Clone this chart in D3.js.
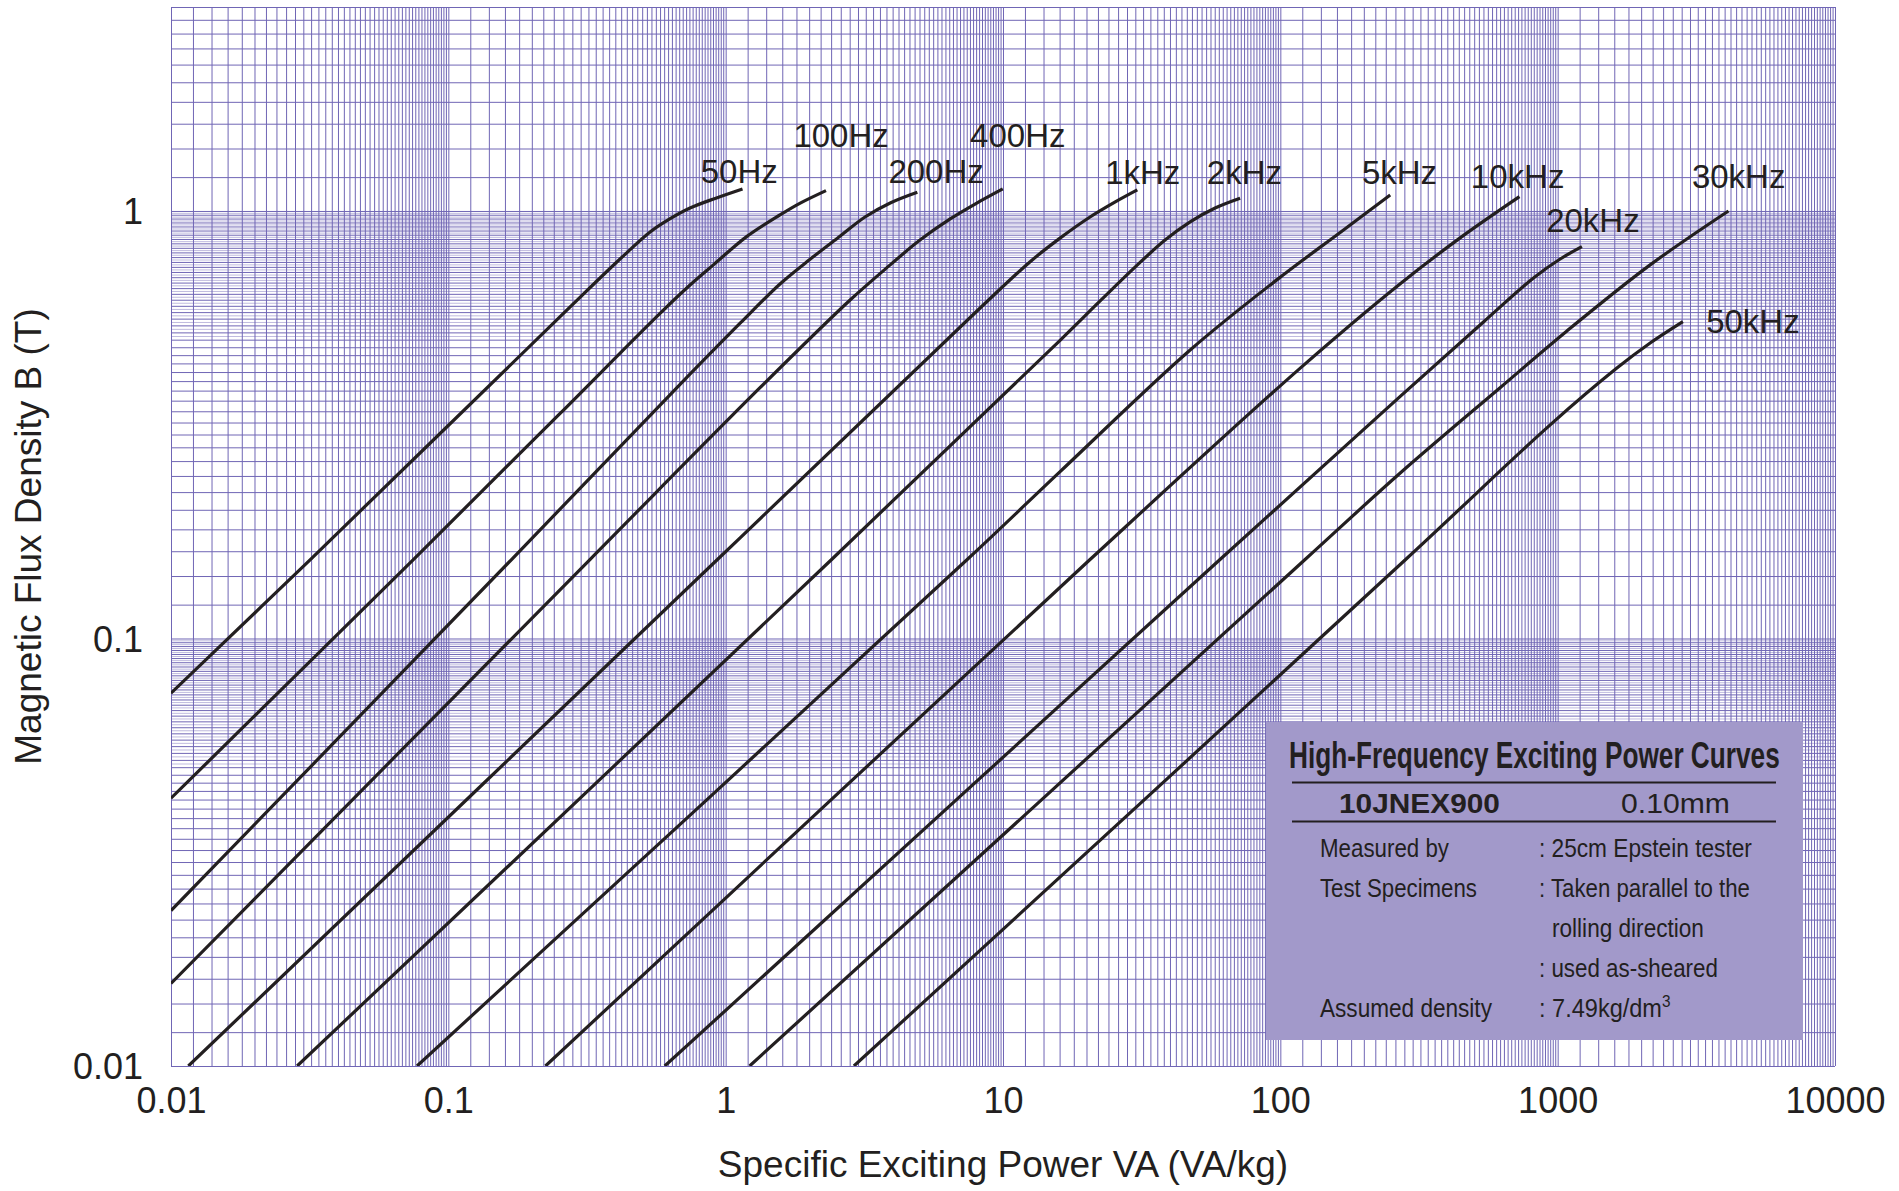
<!DOCTYPE html>
<html>
<head>
<meta charset="utf-8">
<script src="https://cdn.jsdelivr.net/npm/d3@7"></script>
<style>
  html, body { margin: 0; padding: 0; background: #ffffff; }
  svg { display: block; }
</style>
</head>
<body>
<svg id="chart" width="1899" height="1191"></svg>
<script>
// ---------------- DATA ----------------
const xTicks = [0.01, 0.1, 1, 10, 100, 1000, 10000];
const xTickLabels = ["0.01", "0.1", "1", "10", "100", "1000", "10000"];
const yTicks = [0.01, 0.1, 1];
const yTickLabels = ["0.01", "0.1", "1"];

const seriesNames = ["50Hz", "100Hz", "200Hz", "400Hz", "1kHz", "2kHz", "5kHz", "10kHz", "20kHz", "30kHz", "50kHz"];

// [Specific exciting power VA (VA/kg), Magnetic flux density B (T)]
const s50Hz  = [[0.01,0.0745],[0.0318,0.153],[0.253,0.566],[0.416,0.772],[0.534,0.893],[0.620,0.953],[0.744,1.016],[0.916,1.070],[1.15,1.126]];
const s100Hz = [[0.01,0.0423],[0.0748,0.153],[0.253,0.336],[0.580,0.576],[0.744,0.671],[0.903,0.748],[1.19,0.871],[1.57,0.979],[1.85,1.042],[2.30,1.116]];
const s200Hz = [[0.01,0.0231],[0.169,0.153],[0.685,0.393],[1.13,0.547],[1.57,0.675],[2.02,0.772],[2.59,0.874],[3.18,0.968],[3.92,1.044],[4.91,1.106]];
const s400Hz = [[0.01,0.0156],[0.324,0.153],[1.33,0.386],[2.81,0.619],[3.92,0.748],[5.02,0.855],[6.45,0.958],[7.93,1.038],[9.98,1.126]];
const s1kHz  = [[0.01155,0.01],[0.934,0.153],[8.27,0.593],[12.5,0.760],[16.1,0.865],[20.6,0.968],[25.4,1.050],[30.5,1.120]];
const s2kHz  = [[0.0285,0.01],[2.41,0.153],[16.1,0.499],[22.4,0.616],[30.0,0.740],[38.4,0.855],[47.3,0.943],[58.2,1.016],[71.6,1.071]];
const s5kHz  = [[0.0771,0.01],[7.43,0.153],[16.1,0.246],[47.3,0.473],[97.1,0.690],[169,0.903],[249,1.090]];
const s10kHz = [[0.224,0.01],[20.6,0.153],[118,0.429],[270,0.675],[445,0.865],[728,1.080]];
const s20kHz = [[0.603,0.01],[60.6,0.153],[270,0.368],[540,0.550],[818,0.697],[1021,0.772],[1223,0.825]];
const s30kHz = [[1.22,0.01],[122.8,0.153],[270,0.2435],[620,0.386],[1080,0.524],[2155,0.748],[4130,1.0]];
const s50kHz = [[2.90,0.01],[283,0.153],[940,0.316],[1635,0.429],[2155,0.491],[2828,0.551]];

// label anchors in data coordinates (left edge, baseline)
const labelAnchors = [[0.813,1.165],[1.755,1.415],[3.862,1.165],[7.61,1.415],[23.35,1.157],[54.3,1.157],[196.8,1.157],[486.4,1.132],[908.8,0.891],[3048,1.130],[3431,0.518]];

const xTitle = "Specific Exciting Power VA (VA/kg)";
const yTitle = "Magnetic Flux Density B (T)";

const legendTitle = "High-Frequency Exciting Power Curves";
const legendGrade = "10JNEX900";
const legendThickness = "0.10mm";
const legendLeft = ["Measured by", "Test Specimens", "", "", "Assumed density"];
const legendRight = [": 25cm Epstein tester", ": Taken parallel to the", "rolling direction", ": used as-sheared", ": 7.49kg/dm"];
const legendSup = "3";

// --------------- CHART ----------------
const allSeries = [s50Hz, s100Hz, s200Hz, s400Hz, s1kHz, s2kHz, s5kHz, s10kHz, s20kHz, s30kHz, s50kHz];

const L = 171, R = 1835, T = 7, B = 1066;
const svg = d3.select("#chart");
const FONT = "'Liberation Sans', Arial, Helvetica, sans-serif";
const INK = "#231f20";
const GRID = "#7066b5";

const x = d3.scaleLog().domain([0.01, 10000]).range([L, R]);
const y = d3.scaleLog().domain([0.01, 3]).range([B, T]);

// grid values (log paper)
const xGrid = [];
[0.01, 0.1, 1, 10, 100, 1000].forEach(b => {
  for (let k = 10; k < 100; k += 2) xGrid.push(b * k / 10);
});
xGrid.push(10000);
const yGrid = [];      // main lines, step 0.2 per decade unit
const yGridFine = [];  // extra fine lines in the upper half of each decade
[0.01, 0.1].forEach(b => {
  for (let k = 10; k < 100; k += 2) yGrid.push(b * k / 10);
  for (let k = 51; k < 100; k += 2) yGridFine.push(b * k / 10);
});
for (let k = 10; k <= 30; k += 2) yGrid.push(k / 10);

const gGrid = svg.append("g");
gGrid.append("g")
  .attr("transform", `translate(0,${T})`)
  .call(d3.axisBottom(x).tickValues(xGrid).tickSize(B - T).tickFormat(""))
  .call(g => g.select(".domain").remove())
  .call(g => g.selectAll("line").attr("stroke", GRID).attr("stroke-width", 1));
gGrid.append("g")
  .attr("transform", `translate(${L},0)`)
  .call(d3.axisRight(y).tickValues(yGridFine).tickSize(R - L).tickFormat(""))
  .call(g => g.select(".domain").remove())
  .call(g => g.selectAll("line").attr("stroke", GRID).attr("stroke-width", 1).attr("stroke-opacity", 0.45));
gGrid.append("g")
  .attr("transform", `translate(${L},0)`)
  .call(d3.axisRight(y).tickValues(yGrid).tickSize(R - L).tickFormat(""))
  .call(g => g.select(".domain").remove())
  .call(g => g.selectAll("line").attr("stroke", GRID).attr("stroke-width", 1));

// clip
svg.append("defs").append("clipPath").attr("id", "plotClip")
  .append("rect").attr("x", L).attr("y", T).attr("width", R - L).attr("height", B - T);

// curves
const line = d3.line().x(d => x(d[0])).y(d => y(d[1])).curve(d3.curveCatmullRom.alpha(0.5));
svg.append("g").attr("clip-path", "url(#plotClip)")
  .selectAll("path").data(allSeries).join("path")
  .attr("d", line)
  .attr("fill", "none")
  .attr("stroke", INK)
  .attr("stroke-width", 3.2)
  .attr("stroke-linecap", "butt");

// curve labels
svg.append("g").selectAll("text").data(seriesNames).join("text")
  .attr("x", (d, i) => x(labelAnchors[i][0]))
  .attr("y", (d, i) => y(labelAnchors[i][1]))
  .attr("font-family", FONT).attr("font-size", 33).attr("fill", INK)
  .text(d => d);

// x axis labels
svg.append("g")
  .attr("transform", `translate(0,${B})`)
  .call(d3.axisBottom(x).tickValues(xTicks).tickSize(0).tickFormat((d, i) => xTickLabels[i]))
  .call(g => g.select(".domain").remove())
  .call(g => g.selectAll("text").attr("y", 47).attr("dy", 0)
    .attr("font-family", FONT).attr("font-size", 36).attr("fill", INK));

// y axis labels
svg.append("g")
  .attr("transform", `translate(${L},0)`)
  .call(d3.axisLeft(y).tickValues(yTicks).tickSize(0).tickPadding(28).tickFormat((d, i) => yTickLabels[i]))
  .call(g => g.select(".domain").remove())
  .call(g => g.selectAll("text").attr("dy", "0.36em")
    .attr("font-family", FONT).attr("font-size", 36).attr("fill", INK));

// axis titles
svg.append("text")
  .attr("x", (L + R) / 2).attr("y", 1177)
  .attr("text-anchor", "middle")
  .attr("font-family", FONT).attr("font-size", 37).attr("fill", INK)
  .text(xTitle);
svg.append("text")
  .attr("transform", `translate(41,${(T + B) / 2}) rotate(-90)`)
  .attr("text-anchor", "middle")
  .attr("font-family", FONT).attr("font-size", 37).attr("fill", INK)
  .text(yTitle);

// legend box
const lg = svg.append("g");
lg.append("rect").attr("x", 1266).attr("y", 722).attr("width", 537).attr("height", 318).attr("fill", "#a299ca");

// condensed text: natural text horizontally scaled to a target width
function fitText(parent, str, px, py, size, weight, target) {
  const t = parent.append("text")
    .attr("x", 0).attr("y", 0)
    .attr("font-family", FONT).attr("font-size", size)
    .attr("font-weight", weight).attr("fill", INK)
    .text(str);
  const w = t.node().getComputedTextLength();
  t.attr("transform", `translate(${px},${py}) scale(${target / w},1)`);
  return t;
}

fitText(lg, legendTitle, 1289, 768, 37, "bold", 491);
lg.append("line").attr("x1", 1292).attr("x2", 1776).attr("y1", 782.5).attr("y2", 782.5).attr("stroke", INK).attr("stroke-width", 2);
lg.append("line").attr("x1", 1292).attr("x2", 1776).attr("y1", 821.5).attr("y2", 821.5).attr("stroke", INK).attr("stroke-width", 2);
fitText(lg, legendGrade, 1339, 813, 28, "bold", 161);
fitText(lg, legendThickness, 1621, 813, 28, "normal", 109);

const leftLens = [129, 157, 0, 0, 172];
const rightLens = [213, 211, 152, 179, 123];
const rightX = [1539, 1539, 1552, 1539, 1539];
legendLeft.forEach((t, i) => {
  if (!t) return;
  fitText(lg, t, 1320, 857 + i * 40, 26, "normal", leftLens[i]);
});
legendRight.forEach((t, i) => {
  const txt = fitText(lg, t, rightX[i], 857 + i * 40, 26, "normal", rightLens[i]);
  if (i === legendRight.length - 1) {
    txt.append("tspan").attr("font-size", 17).attr("dy", -10).text(legendSup);
  }
});
</script>
</body>
</html>
